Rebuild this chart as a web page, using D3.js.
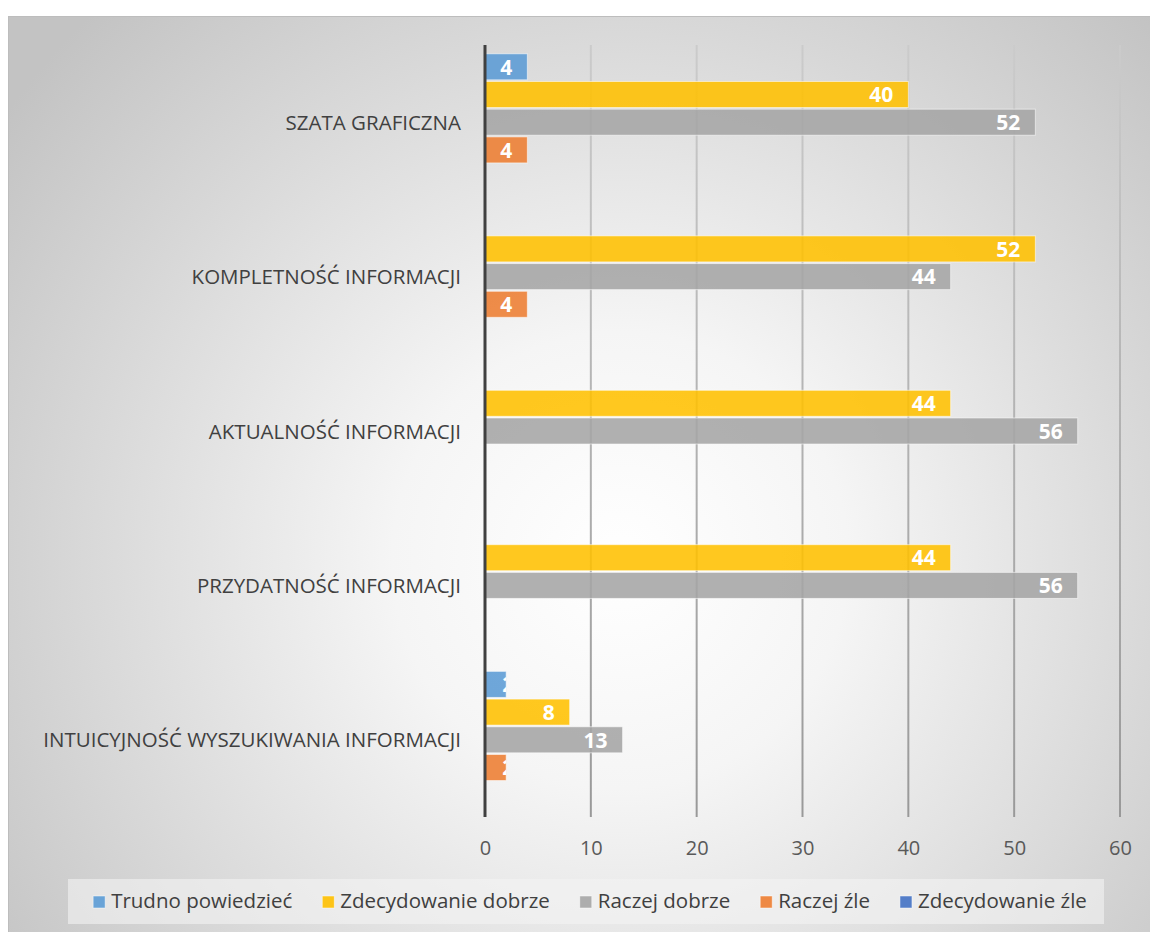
<!DOCTYPE html>
<html>
<head>
<meta charset="utf-8">
<script src="https://cdn.jsdelivr.net/npm/d3@7/dist/d3.min.js"></script>
<style>
  html, body { margin: 0; padding: 0; background: #ffffff; }
  svg { display: block; }
  text { font-family: "Open Sans", "Noto Sans", sans-serif; }
</style>
</head>
<body>
<svg id="chart" width="1150" height="932"></svg>
<script>
// ---- data ----
const categories = [
  "SZATA GRAFICZNA",
  "KOMPLETNOŚĆ INFORMACJI",
  "AKTUALNOŚĆ INFORMACJI",
  "PRZYDATNOŚĆ INFORMACJI",
  "INTUICYJNOŚĆ WYSZUKIWANIA INFORMACJI"
];
const seriesNames = ["Trudno powiedzieć", "Zdecydowanie dobrze", "Raczej dobrze", "Raczej źle", "Zdecydowanie źle"];
const trudnoPowiedziec   = [4, 0, 0, 0, 2];
const zdecydowanieDobrze = [40, 52, 44, 44, 8];
const raczejDobrze       = [52, 44, 56, 56, 13];
const raczejZle          = [4, 4, 0, 0, 2];
const zdecydowanieZle    = [0, 0, 0, 0, 0];
const xTickValues = [0, 10, 20, 30, 40, 50, 60];
const seriesColors = ["#5B9BD5", "#FFC000", "#A5A5A5", "#ED7D31", "#4472C4"];

const seriesValues = [trudnoPowiedziec, zdecydowanieDobrze, raczejDobrze, raczejZle, zdecydowanieZle];
const series = seriesNames.map((name, i) => ({ name, color: seriesColors[i], values: seriesValues[i] }));

// ---- layout ----
const W = 1150, H = 932;
const plot = { left: 485, right: 1120, top: 45, bottom: 817 };

const svg = d3.select("#chart");
const defs = svg.append("defs");

const bg = defs.append("radialGradient").attr("id", "bgGrad")
  .attr("gradientUnits", "userSpaceOnUse")
  .attr("cx", 620).attr("cy", 560).attr("r", 760);
bg.append("stop").attr("offset", 0).attr("stop-color", "#ffffff");
bg.append("stop").attr("offset", 0.3).attr("stop-color", "#f5f5f5");
bg.append("stop").attr("offset", 1).attr("stop-color", "#c3c3c3");

const gridGrad = defs.append("linearGradient").attr("id", "gridGrad")
  .attr("gradientUnits", "userSpaceOnUse")
  .attr("x1", 0).attr("y1", plot.top).attr("x2", 0).attr("y2", plot.bottom);
gridGrad.append("stop").attr("offset", 0).attr("stop-color", "#cbcbcb");
gridGrad.append("stop").attr("offset", 1).attr("stop-color", "#999999");

// chart area background
svg.append("rect")
  .attr("x", 8.5).attr("y", 16.5)
  .attr("width", W - 8).attr("height", H - 16)
  .attr("fill", "url(#bgGrad)")
  .attr("stroke", "#bdbdbd").attr("stroke-width", 1);

// ---- scales ----
const x = d3.scaleLinear().domain([0, 60]).range([plot.left, plot.right]);
const y = d3.scaleBand().domain(categories).range([plot.top, plot.bottom]).paddingInner(0).paddingOuter(0);
const ySub = d3.scaleBand().domain(seriesNames).range([0, y.bandwidth()]).paddingInner(0.06).paddingOuter(0.317);

// gridlines
svg.append("g").selectAll("line")
  .data(xTickValues.filter(v => v !== 0))
  .join("line")
  .attr("x1", d => x(d)).attr("x2", d => x(d))
  .attr("y1", plot.top).attr("y2", plot.bottom)
  .attr("stroke", "url(#gridGrad)")
  .attr("stroke-width", 2);

// x-axis tick labels
const xAxis = svg.append("g")
  .attr("transform", `translate(0,${plot.bottom})`)
  .call(d3.axisBottom(x).tickValues(xTickValues).tickSize(0).tickFormat(d3.format("d")));
xAxis.select(".domain").remove();
xAxis.selectAll("text")
  .attr("y", 38).attr("dy", 0)
  .attr("fill", "#595959")
  .style("font-size", "20px")
  .style("font-family", "'Open Sans', sans-serif");

// bars
const barData = [];
series.forEach(s => {
  s.values.forEach((v, ci) => {
    barData.push({ series: s.name, color: s.color, cat: categories[ci], value: v });
  });
});

const barsG = svg.append("g");
barsG.selectAll("rect")
  .data(barData.filter(d => d.value > 0))
  .join("rect")
  .attr("x", x(0))
  .attr("y", d => y(d.cat) + ySub(d.series))
  .attr("width", d => x(d.value) - x(0))
  .attr("height", ySub.bandwidth())
  .attr("fill", d => d.color)
  .attr("fill-opacity", 0.88)
  .attr("stroke", "rgba(255,255,255,0.55)")
  .attr("stroke-width", 1);

// bar labels (inside end), clipped to bar
const labelData = barData.filter(d => d.value > 0);
labelData.forEach((d, i) => {
  const id = "clip" + i;
  defs.append("clipPath").attr("id", id)
    .append("rect")
    .attr("x", x(0))
    .attr("y", y(d.cat) + ySub(d.series))
    .attr("width", x(d.value) - x(0))
    .attr("height", ySub.bandwidth());
  d.clip = id;
});
const lbl = svg.append("g").selectAll("text")
  .data(labelData)
  .join("text")
  .attr("clip-path", d => `url(#${d.clip})`)
  .attr("y", d => y(d.cat) + ySub(d.series) + ySub.bandwidth() / 2 + 7.8)
  .attr("fill", "#ffffff")
  .style("font-size", "21px")
  .style("font-weight", "700")
  .text(d => d.value);
lbl.each(function(d) {
  const w = this.getComputedTextLength();
  const barW = x(d.value) - x(0);
  const t = d3.select(this);
  if (w + 24 > barW) {
    t.attr("text-anchor", "start").attr("x", x(d.value) - 4);
  } else {
    t.attr("text-anchor", "end").attr("x", x(d.value) - 15);
  }
});

// vertical axis line
svg.append("line")
  .attr("x1", x(0)).attr("x2", x(0))
  .attr("y1", plot.top).attr("y2", plot.bottom)
  .attr("stroke", "#404040").attr("stroke-width", 3);

// category labels
svg.append("g").selectAll("text")
  .data(categories)
  .join("text")
  .attr("x", 461)
  .attr("y", d => y(d) + y.bandwidth() / 2 + 7.5)
  .attr("text-anchor", "end")
  .attr("fill", "#404040")
  .style("font-size", "20.5px")
  .text(d => d);

// legend
const legendBox = { x: 68, y: 879, w: 1036, h: 45 };
svg.append("rect")
  .attr("x", legendBox.x).attr("y", legendBox.y)
  .attr("width", legendBox.w).attr("height", legendBox.h)
  .attr("fill", "#f4f4f4").attr("fill-opacity", 0.6);

const lg = svg.append("g");
const items = lg.selectAll("g").data(series).join("g");
items.append("rect")
  .attr("width", 12).attr("height", 12)
  .attr("y", 896)
  .attr("fill", d => d.color)
  .attr("fill-opacity", 0.9)
  .attr("stroke", "rgba(255,255,255,0.6)").attr("stroke-width", 0.8);
items.append("text")
  .attr("y", 908)
  .attr("fill", "#404040")
  .style("font-size", "20.5px")
  .text(d => d.name);

let widths = [];
items.each(function() { widths.push(d3.select(this).select("text").node().getComputedTextLength()); });
const sqW = 12, sqGap = 6, itemGap = 30;
const total = d3.sum(widths) + series.length * (sqW + sqGap) + (series.length - 1) * itemGap;
let cx = legendBox.x + (legendBox.w - total) / 2 + 4;
items.each(function(d, i) {
  const g = d3.select(this);
  g.select("rect").attr("x", cx);
  g.select("text").attr("x", cx + sqW + sqGap);
  cx += sqW + sqGap + widths[i] + itemGap;
});
</script>
</body>
</html>
